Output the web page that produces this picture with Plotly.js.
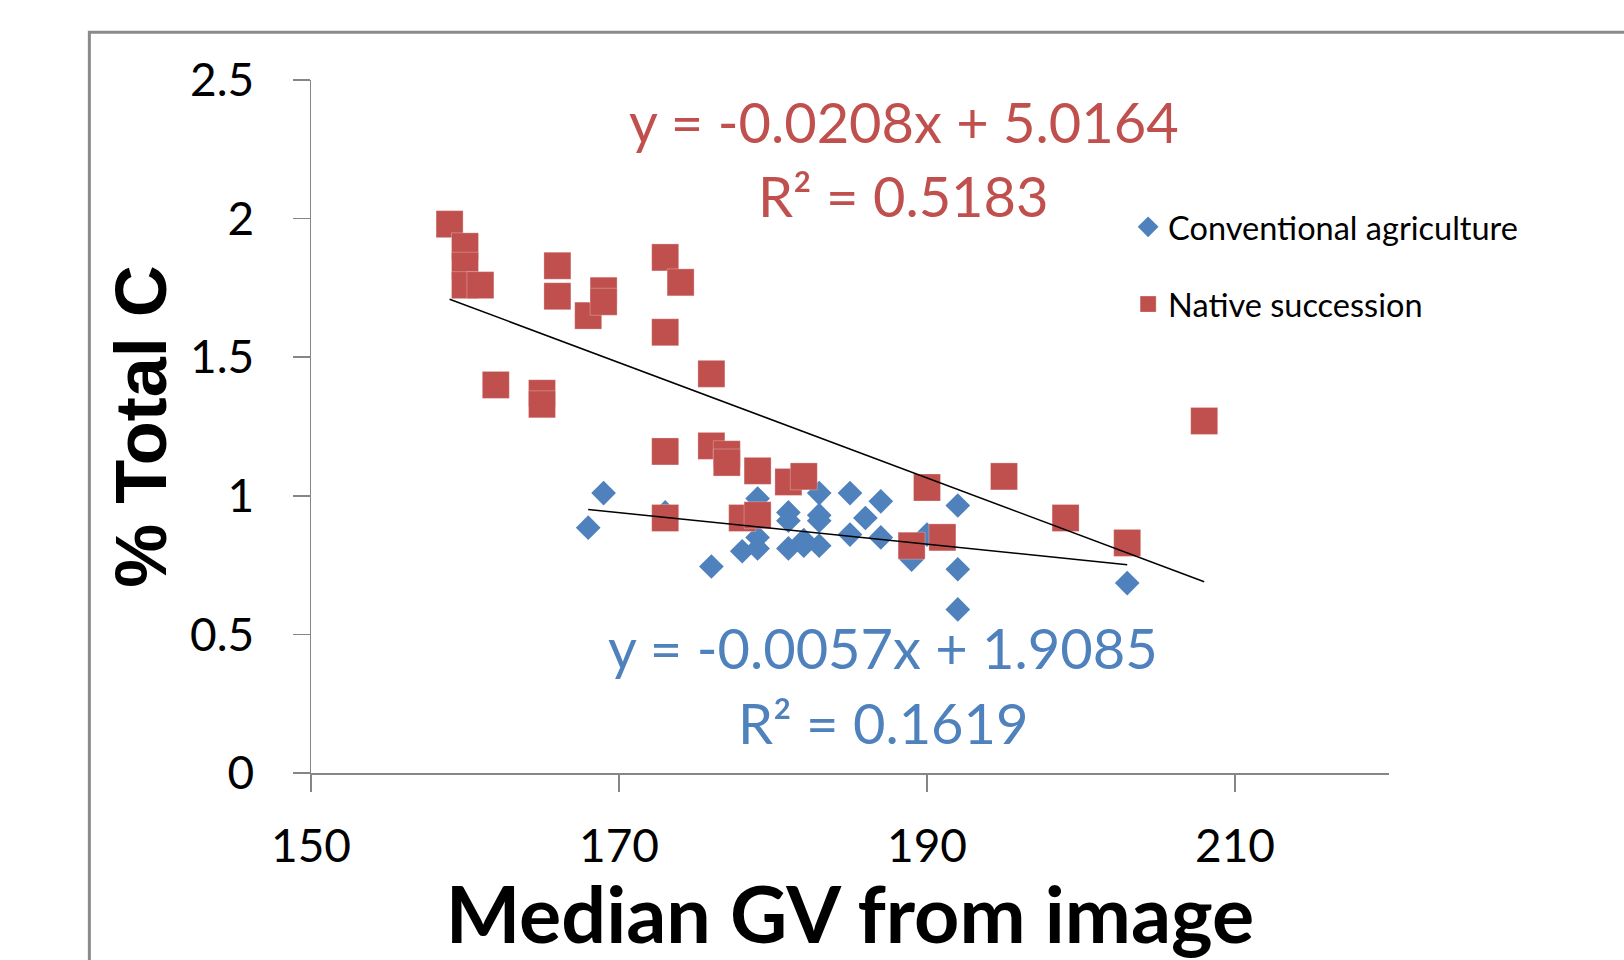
<!DOCTYPE html>
<html>
<head>
<meta charset="utf-8">
<script src="https://cdn.plot.ly/plotly-3.0.1.min.js"></script>
<style>
  html, body { margin: 0; padding: 0; background: #ffffff; }
  #chart { width: 1624px; height: 960px; }
</style>
</head>
<body>
<div id="chart"></div>
<script>
// ---- Data ----
const convX = [168, 169, 173, 176, 178, 179, 179, 179, 181, 181, 181, 182, 182, 183, 183, 183, 183, 185, 185, 186, 187, 187, 189, 190, 192, 192, 192, 203];
const convY = [0.885, 1.01, 0.94, 0.745, 0.80, 0.99, 0.85, 0.81, 0.94, 0.91, 0.81, 0.84, 0.82, 1.01, 0.93, 0.91, 0.82, 1.01, 0.86, 0.92, 0.98, 0.85, 0.77, 0.86, 0.965, 0.735, 0.59, 0.685];

const nativeX = [159, 160, 160, 160, 161, 162, 165, 165, 166, 166, 168, 169, 169, 173, 174, 173, 176, 173, 173, 176, 177, 177, 178, 179, 179, 181, 182, 189, 190, 191, 195, 199, 203, 208];
const nativeY = [1.98, 1.90, 1.83, 1.76, 1.76, 1.40, 1.37, 1.33, 1.83, 1.72, 1.65, 1.74, 1.70, 1.86, 1.77, 1.59, 1.44, 1.16, 0.92, 1.18, 1.15, 1.12, 0.92, 0.93, 1.09, 1.05, 1.07, 0.82, 1.03, 0.85, 1.07, 0.92, 0.83, 1.27];

// Trendline coefficients as printed on the chart
const convFit = { slope: -0.0057, intercept: 1.9085, r2: 0.1619 };
const nativeFit = { slope: -0.0208, intercept: 5.0164, r2: 0.5183 };

const seriesNames = ["Conventional agriculture", "Native succession"];
const xTicks = [150, 170, 190, 210];
const yTicks = [0, 0.5, 1, 1.5, 2, 2.5];

// ---- Build ----
const BLUE = "#4F81BD";
const RED = "#C0504D";
const FONT = "Lato, 'Open Sans', sans-serif";

function fitLine(xs, fit) {
  const lo = Math.min(...xs), hi = Math.max(...xs);
  return { x: [lo, hi], y: [fit.slope * lo + fit.intercept, fit.slope * hi + fit.intercept] };
}
function eqText(fit) {
  const s = fit.slope < 0 ? "-" + Math.abs(fit.slope).toFixed(4) : fit.slope.toFixed(4);
  return "y = " + s + "x + " + fit.intercept.toFixed(4);
}

const convLine = fitLine(convX, convFit);
const nativeLine = fitLine(nativeX, nativeFit);

const traces = [
  {
    x: convX, y: convY, type: "scatter", mode: "markers", name: seriesNames[0],
    legendgroup: "a",
    marker: { symbol: "diamond", size: 19, color: BLUE, line: { width: 0 } }
  },
  {
    x: nativeX, y: nativeY, type: "scatter", mode: "markers", name: seriesNames[1],
    legendgroup: "b",
    marker: { symbol: "square", size: 27, color: RED, line: { width: 0.8, color: "rgba(255,255,255,0.35)" } }
  },
  {
    x: convLine.x, y: convLine.y, type: "scatter", mode: "lines", showlegend: false,
    line: { color: "#000000", width: 1.5 }, hoverinfo: "skip"
  },
  {
    x: nativeLine.x, y: nativeLine.y, type: "scatter", mode: "lines", showlegend: false,
    line: { color: "#000000", width: 1.5 }, hoverinfo: "skip"
  }
];

const layout = {
  width: 1624, height: 960,
  paper_bgcolor: "#ffffff", plot_bgcolor: "#ffffff",
  margin: { l: 311, r: 235, t: 80, b: 187, pad: 0 },
  font: { family: FONT, color: "#000000" },
  showlegend: true,
  legend: {
    x: 0.758, y: 0.828, xanchor: "left", yanchor: "top",
    font: { family: FONT, size: 32.5, color: "#000000" },
    tracegroupgap: 32, bgcolor: "rgba(0,0,0,0)"
  },
  xaxis: {
    range: [150, 220], tickvals: xTicks, ticktext: xTicks.map(String),
    showgrid: false, zeroline: false,
    showline: true, linecolor: "#868686", linewidth: 1.5,
    ticks: "outside", ticklen: 17, tickwidth: 1.5, tickcolor: "#868686",
    ticklabelstandoff: 15,
    tickfont: { family: FONT, size: 46, color: "#000000" },
    title: { text: "Median GV from image", font: { family: FONT, size: 79, color: "#000000", weight: "bold" }, standoff: 18 },
    automargin: false
  },
  yaxis: {
    range: [0, 2.5], tickvals: yTicks, ticktext: yTicks.map(String),
    showgrid: false, zeroline: false,
    showline: true, linecolor: "#868686", linewidth: 1.5,
    ticks: "outside", ticklen: 17, tickwidth: 1.5, tickcolor: "#868686",
    ticklabelstandoff: 29,
    tickfont: { family: FONT, size: 46, color: "#000000" },
    title: { text: "% Total C", font: { family: "'Liberation Sans', Arial, sans-serif", size: 72, color: "#000000", weight: "bold" }, standoff: 0 },
    automargin: false
  },
  shapes: [
    { type: "rect", xref: "paper", yref: "paper", x0: -0.2056, x1: 1.4, y0: -0.5, y1: 1.0688,
      line: { color: "#8a8a8a", width: 3 }, fillcolor: "rgba(0,0,0,0)", layer: "below" }
  ],
  annotations: [
    { xref: "x", yref: "y", x: 188.5, y: 2.352, text: eqText(nativeFit), showarrow: false,
      font: { family: FONT, size: 56, color: RED } },
    { xref: "x", yref: "y", x: 188.5, y: 2.082, text: "R² = " + nativeFit.r2.toFixed(4), showarrow: false,
      font: { family: FONT, size: 56, color: RED } },
    { xref: "x", yref: "y", x: 187.15, y: 0.453, text: eqText(convFit), showarrow: false,
      font: { family: FONT, size: 56, color: BLUE } },
    { xref: "x", yref: "y", x: 187.15, y: 0.183, text: "R² = " + convFit.r2.toFixed(4), showarrow: false,
      font: { family: FONT, size: 56, color: BLUE } }
  ]
};

Plotly.newPlot("chart", traces, layout, { displayModeBar: false, staticPlot: true });
</script>
</body>
</html>
